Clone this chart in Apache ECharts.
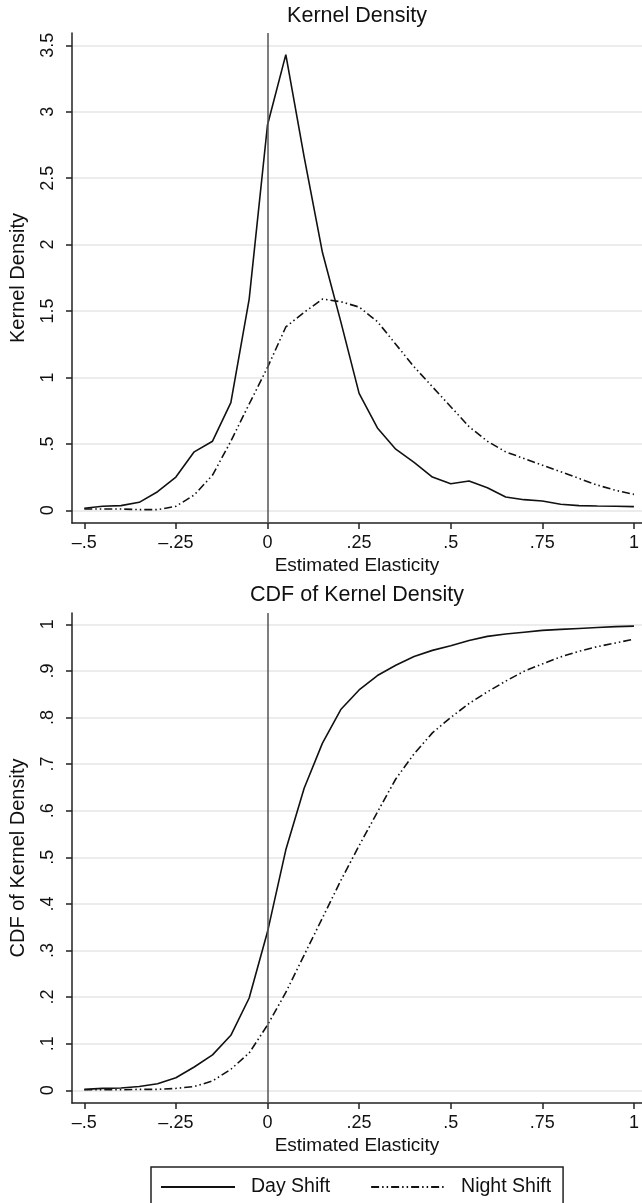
<!DOCTYPE html>
<html>
<head>
<meta charset="utf-8">
<script src="https://cdn.jsdelivr.net/npm/echarts@6/dist/echarts.min.js"></script>
<style>
html,body{margin:0;padding:0;background:#fff;}
#chart{width:642px;height:1203px;}
</style>
</head>
<body>
<div id="chart"></div>
<script>
// Estimated elasticity grid (x values)
const elasticity = [-0.5,-0.45,-0.4,-0.35,-0.3,-0.25,-0.2,-0.15,-0.1,-0.05,0,0.05,0.1,0.15,0.2,0.25,0.3,0.35,0.4,0.45,0.5,0.55,0.6,0.65,0.7,0.75,0.8,0.85,0.9,0.95,1];

// Kernel density
const dayDensity   = [0.015,0.03,0.035,0.06,0.14,0.25,0.44,0.52,0.81,1.59,2.90,3.43,2.66,1.94,1.42,0.88,0.62,0.46,0.36,0.25,0.20,0.22,0.17,0.10,0.08,0.07,0.045,0.035,0.032,0.03,0.028];
const nightDensity = [0.01,0.01,0.01,0.005,0.005,0.03,0.115,0.265,0.52,0.80,1.075,1.38,1.49,1.59,1.57,1.53,1.42,1.25,1.08,0.93,0.78,0.63,0.52,0.44,0.39,0.34,0.29,0.24,0.19,0.15,0.12];

// CDF of kernel density
const dayCDF   = [0.002,0.004,0.005,0.008,0.014,0.027,0.05,0.076,0.118,0.198,0.34,0.516,0.648,0.745,0.817,0.859,0.89,0.912,0.931,0.944,0.954,0.965,0.974,0.979,0.983,0.987,0.989,0.991,0.993,0.995,0.996];
const nightCDF = [0.001,0.001,0.001,0.002,0.002,0.004,0.008,0.02,0.045,0.08,0.14,0.21,0.29,0.37,0.45,0.525,0.597,0.668,0.722,0.767,0.80,0.83,0.855,0.878,0.899,0.915,0.93,0.942,0.952,0.96,0.968];

// Tick values and labels
const xTickValues = [-0.5,-0.25,0,0.25,0.5,0.75,1];
const xTickLabels = ['\u2013.5','\u2013.25','0','.25','.5','.75','1'];
const densTickValues = [0,0.5,1,1.5,2,2.5,3,3.5];
const densTickLabels = ['0','.5','1','1.5','2','2.5','3','3.5'];
const cdfTickValues = [0,0.1,0.2,0.3,0.4,0.5,0.6,0.7,0.8,0.9,1];
const cdfTickLabels = ['0','.1','.2','.3','.4','.5','.6','.7','.8','.9','1'];

const seriesNames = ['Day Shift','Night Shift'];
const titles = ['Kernel Density','CDF of Kernel Density'];
const xTitle = 'Estimated Elasticity';
const yTitles = ['Kernel Density','CDF of Kernel Density'];

const FONT = 'Liberation Sans, Arial, Helvetica, sans-serif';
const TXT = '#111';

function pairs(xs, ys){ return xs.map((x,i)=>[x, ys[i]]); }
function labelFmt(values, labels){
  return function(v){
    for (let i=0;i<values.length;i++){ if (Math.abs(values[i]-v)<1e-9) return labels[i]; }
    return '';
  };
}

function xAxisCfg(gridIndex){
  return {
    type:'value', gridIndex, min:-0.5335, max:1.022,
    name:xTitle, nameLocation:'middle', nameGap:33,
    nameTextStyle:{fontFamily:FONT,fontSize:19,color:TXT},
    axisLine:{show:true,onZero:false,lineStyle:{color:'#222',width:1.5}},
    axisTick:{show:true,length:6,customValues:xTickValues,lineStyle:{color:'#222',width:1.5}},
    axisLabel:{show:true,customValues:xTickValues,formatter:labelFmt(xTickValues,xTickLabels),
      fontFamily:FONT,fontSize:18,color:TXT,margin:11},
    splitLine:{show:false}
  };
}
function yAxisCfg(gridIndex, min, max, vals, labs, name){
  return {
    type:'value', gridIndex, min, max,
    name, nameLocation:'middle', nameGap:44, nameRotate:90,
    nameTextStyle:{fontFamily:FONT,fontSize:20,color:TXT},
    axisLine:{show:true,onZero:false,lineStyle:{color:'#222',width:1.5}},
    axisTick:{show:true,length:6,customValues:vals,lineStyle:{color:'#222',width:1.5}},
    axisLabel:{show:true,rotate:90,customValues:vals,formatter:labelFmt(vals,labs),
      fontFamily:FONT,fontSize:18,color:TXT,margin:15},
    splitLine:{show:true,lineStyle:{color:'#e6e6e6',width:1.5}}
  };
}

const dayStyle = {color:'#111',width:1.6,type:'solid'};
const nightStyle = {color:'#111',width:1.6,type:[8,3,1.5,3,1.5,3]};
const zeroLine = {
  silent:true, symbol:['none','none'], label:{show:false},
  lineStyle:{color:'#555',width:1.5,type:'solid'},
  data:[{xAxis:0}], animation:false
};

function lineSeries(name, data, style, gi, withZero){
  const s = {
    name, type:'line', xAxisIndex:gi, yAxisIndex:gi, data,
    showSymbol:false, symbol:'none', smooth:false,
    lineStyle:style, itemStyle:{color:'#111'}, z:3
  };
  if (withZero) s.markLine = zeroLine;
  return s;
}

const option = {
  animation:false,
  backgroundColor:'#fff',
  title:[
    {text:titles[0], left:357, top:5, textAlign:'center', padding:0,
     textStyle:{fontFamily:FONT,fontSize:21.5,fontWeight:'normal',color:TXT}},
    {text:titles[1], left:357, top:584, textAlign:'center', padding:0,
     textStyle:{fontFamily:FONT,fontSize:21.5,fontWeight:'normal',color:TXT}}
  ],
  legend:{
    data:seriesNames, left:151, top:1167,
    orient:'horizontal', itemWidth:74, itemHeight:14, itemGap:40,
    padding:[10,12,14,9],
    borderColor:'#222', borderWidth:1.5,
    itemStyle:{opacity:0},
    textStyle:{fontFamily:FONT,fontSize:19.5,color:TXT,padding:[0,0,0,11]}
  },
  grid:[
    {left:71, top:33, width:571, height:490, containLabel:false},
    {left:71, top:613, width:571, height:490, containLabel:false}
  ],
  xAxis:[xAxisCfg(0), xAxisCfg(1)],
  yAxis:[
    yAxisCfg(0,-0.0956,3.5926,densTickValues,densTickLabels,yTitles[0]),
    yAxisCfg(1,-0.0273,1.0242,cdfTickValues,cdfTickLabels,yTitles[1])
  ],
  series:[
    lineSeries(seriesNames[0], pairs(elasticity,dayDensity), dayStyle, 0, true),
    lineSeries(seriesNames[1], pairs(elasticity,nightDensity), nightStyle, 0, false),
    lineSeries(seriesNames[0], pairs(elasticity,dayCDF), dayStyle, 1, true),
    lineSeries(seriesNames[1], pairs(elasticity,nightCDF), nightStyle, 1, false)
  ]
};

const chart = echarts.init(document.getElementById('chart'), null, {renderer:'canvas'});
chart.setOption(option);
</script>
</body>
</html>
